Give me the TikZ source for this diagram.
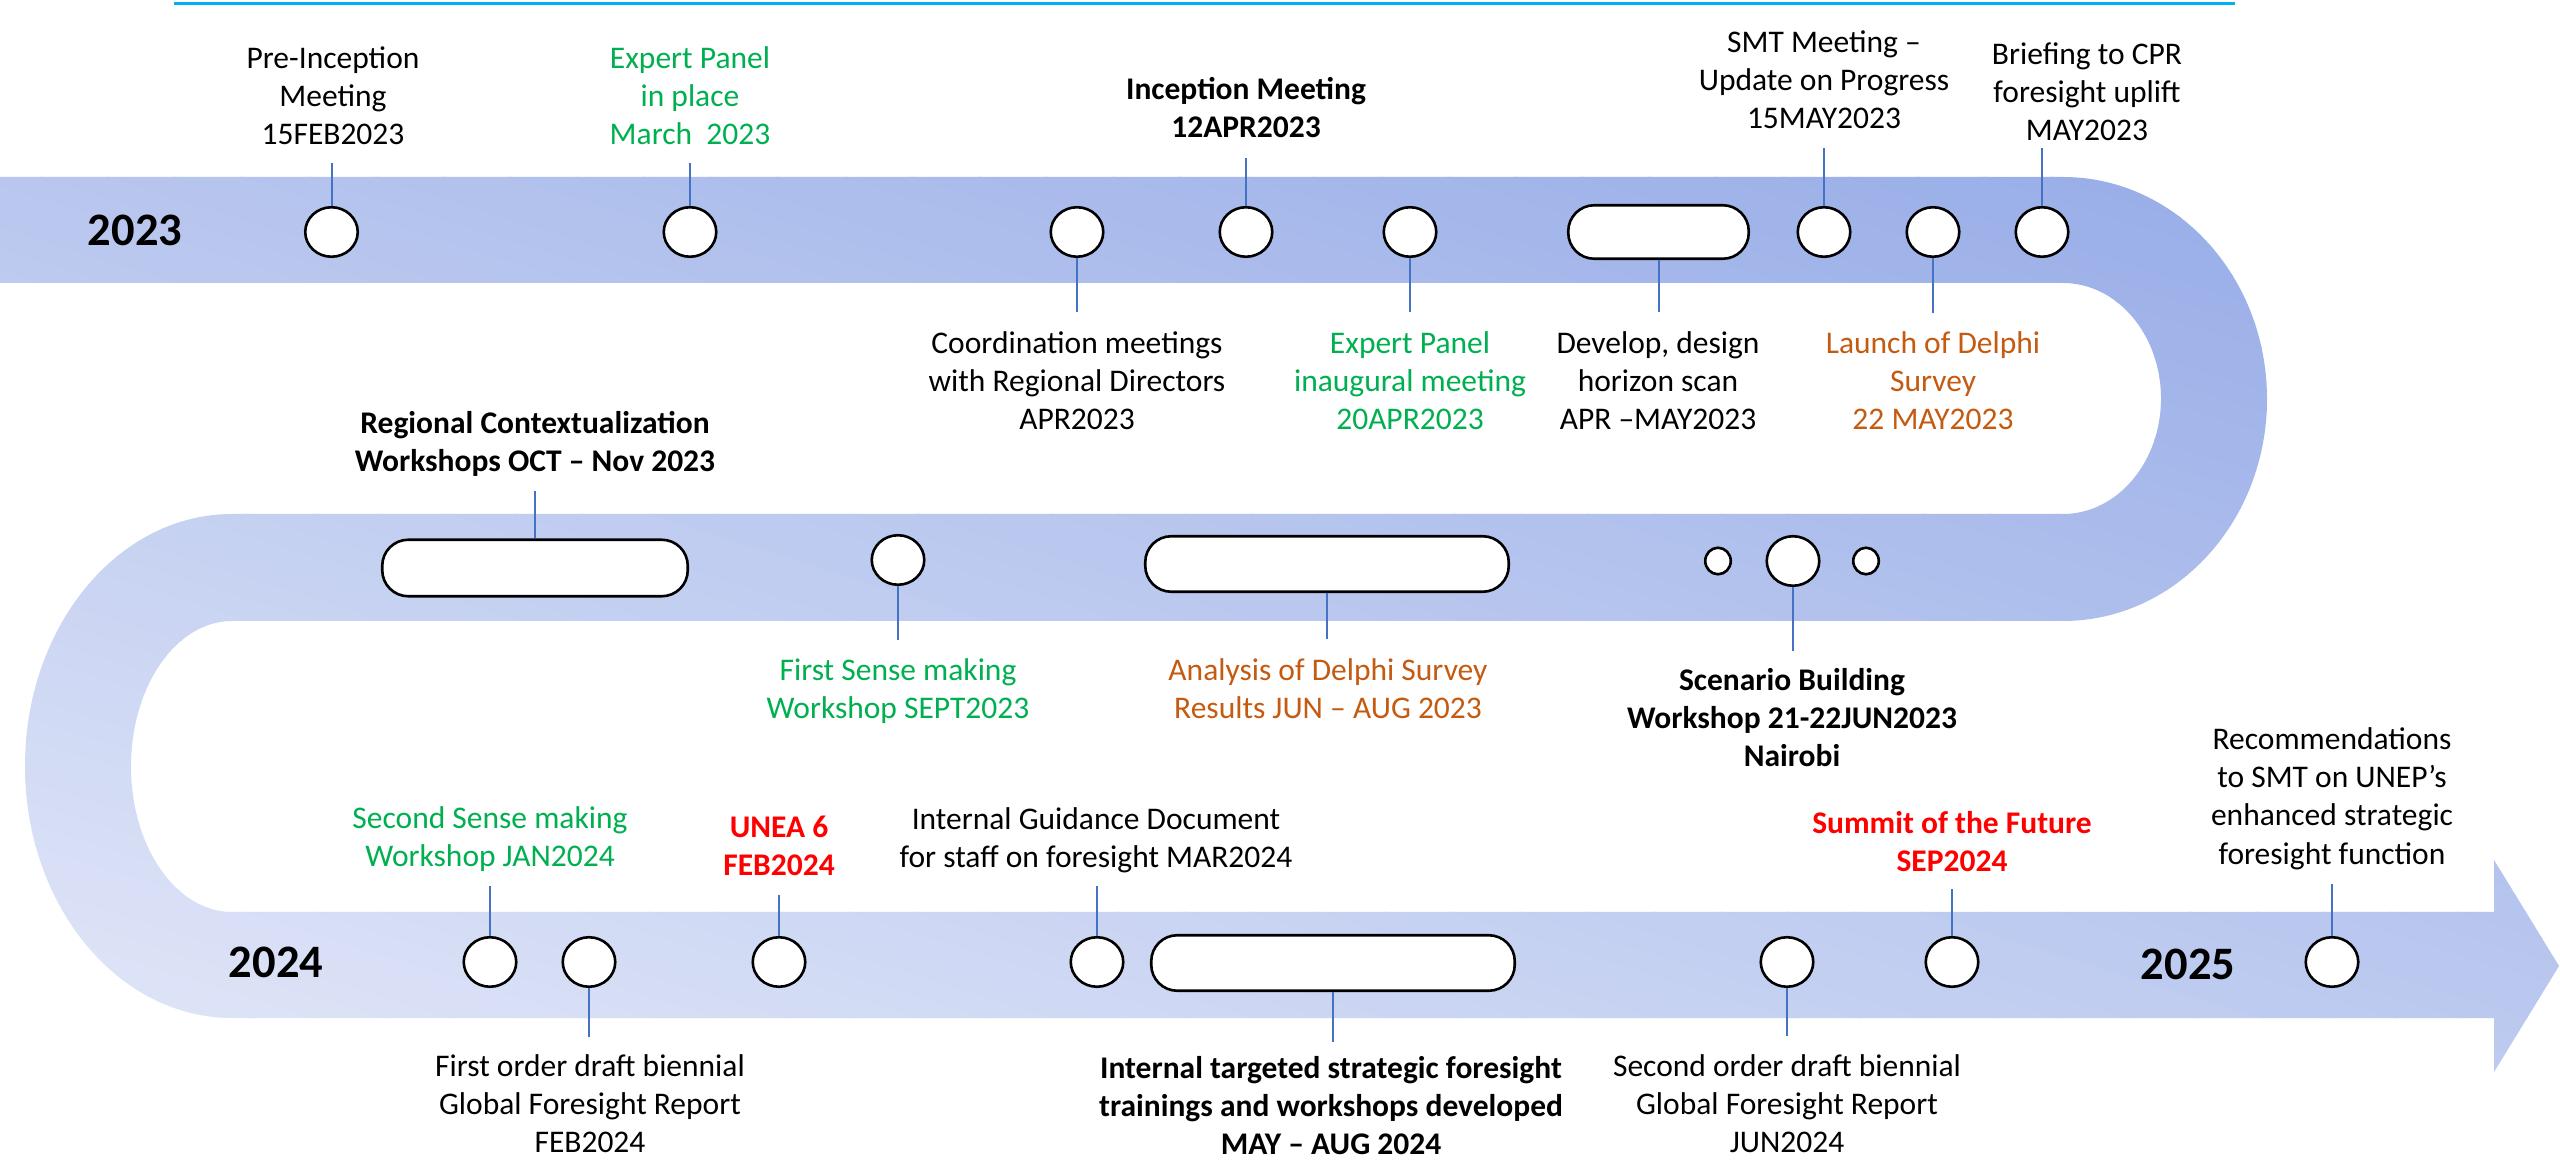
\documentclass[tikz,border=0pt]{standalone}
\usepackage{fontspec}
\setmainfont{Carlito}
\usetikzlibrary{shapes.geometric}

\definecolor{riblight}{RGB}{222,228,247}
\definecolor{ribdark}{RGB}{154,175,232}
\definecolor{leaderblue}{RGB}{68,114,196}
\definecolor{rulecyan}{RGB}{0,176,240}
\definecolor{evgreen}{RGB}{0,176,80}
\definecolor{evorange}{RGB}{197,90,17}
\definecolor{evred}{RGB}{255,0,0}

\newcommand\lblfont{\fontsize{31.5}{38.4}\selectfont}
\newcommand\yearfont{\fontsize{46.5}{56}\selectfont\bfseries}

\begin{document}
\begin{tikzpicture}[x=1pt,y=1pt,
  evt/.style={ellipse, draw=black, fill=white, line width=2.6pt,
    minimum width=52.5pt, minimum height=49.5pt, inner sep=0pt},
  evtsmall/.style={ellipse, draw=black, fill=white, line width=2.6pt,
    minimum width=25.5pt, minimum height=26.5pt, inner sep=0pt},
  evtpill/.style={rectangle, draw=black, fill=white, line width=2.6pt,
    rounded corners=26pt, minimum height=53.5pt, inner sep=0pt},
  leader/.style={draw=leaderblue, line width=2pt},
  lbl/.style={anchor=north, align=center, inner sep=0pt, font=\lblfont},
  strong/.style={font=\lblfont\bfseries},
  year/.style={inner sep=0pt, font=\yearfont}]

\useasboundingbox (0,0) rectangle (2560,1160);
\fill[white] (0,0) rectangle (2560,1160);

% thin rule across the top
\draw[rulecyan, line width=3pt] (174,1156) -- (2235,1156);

% serpentine ribbon with a diagonal light-to-dark gradient
\begin{scope}
  \clip (0,983) -- (2063,983)
    arc[start angle=90, end angle=-90, x radius=204, y radius=222]
    -- (232,539)
    arc[start angle=90, end angle=270, x radius=101, y radius=145.5]
    -- (2494,248) -- (2494,300) -- (2559,194) -- (2494,88) -- (2494,142)
    -- (232,142)
    arc[start angle=270, end angle=90, x radius=207, y radius=252]
    -- (2063,646)
    arc[start angle=-90, end angle=90, x radius=98, y radius=115.5]
    -- (0,877) -- cycle;
  \begin{scope}[x={(0.9545pt,-0.2985pt)}, y={(0.2985pt,0.9545pt)}]
    \foreach \i in {0,...,69}{
      \pgfmathsetmacro\pa{170+\i*20}
      \pgfmathsetmacro\pb{\pa+21}
      \pgfmathsetmacro\pc{100*\i/69}
      \fill[ribdark!\pc!riblight] (-500,\pa) -- (2800,\pa) -- (2800,\pb) -- (-500,\pb) -- cycle;
    }
  \end{scope}
\end{scope}

% year labels
\node[year] (y23) at (135,930) {2023};
\node[year] (y24) at (276,198) {2024};
\node[year] (y25) at (2188,196) {2025};

% events, 2023 row
\node[evt] (c1) at (331.5,928) {};
\node[evt] (c2) at (690,928) {};
\node[evt] (c3) at (1077,928) {};
\node[evt] (c4) at (1246,928) {};
\node[evt] (c5) at (1410,928) {};
\node[evtpill, minimum width=180.5pt] (p1) at (1658.5,928) {};
\node[evt] (c6) at (1824,928) {};
\node[evt] (c7) at (1933,928) {};
\node[evt] (c8) at (2042,928) {};

% events, middle row
\node[evtpill, minimum width=305.5pt, minimum height=56.5pt] (p2) at (535,592) {};
\node[evt] (c9) at (898,600) {};
\node[evtpill, minimum width=363.5pt, minimum height=55.5pt] (p3) at (1327,596) {};
\node[evtsmall] (s1) at (1718,599) {};
\node[evt] (c10) at (1793,599) {};
\node[evtsmall] (s2) at (1866,599) {};

% events, 2024 row
\node[evt] (c11) at (490,198) {};
\node[evt] (c12) at (589,198) {};
\node[evt] (c13) at (779,198) {};
\node[evt] (c14) at (1097,198) {};
\node[evtpill, minimum width=363.5pt, minimum height=55.5pt] (p4) at (1333,197) {};
\node[evt] (c15) at (1787,198) {};
\node[evt] (c16) at (1952,198) {};
\node[evt] (c17) at (2332,198) {};

% captions
\node[lbl] (t1) at (333,1118.9) {\strut Pre-Inception\\Meeting\\15FEB2023};
\node[lbl, text=evgreen] (t2) at (690,1118.9) {\strut Expert Panel\\in place\\March~~2023};
\node[lbl, strong] (t3) at (1246,1087.9) {\strut Inception Meeting\\12APR2023};
\node[lbl] (t4) at (1824,1134.9) {\strut SMT Meeting –\\Update on Progress\\15MAY2023};
\node[lbl] (t5) at (2087,1122.9) {\strut Briefing to CPR\\foresight uplift\\MAY2023};
\node[lbl] (t6) at (1077,833.9) {\strut Coordination meetings\\with Regional Directors\\APR2023};
\node[lbl, text=evgreen] (t7) at (1410,833.9) {\strut Expert Panel\\inaugural meeting\\20APR2023};
\node[lbl] (t8) at (1658,833.9) {\strut Develop, design\\horizon scan\\APR –MAY2023};
\node[lbl, text=evorange] (t9) at (1933,833.9) {\strut Launch of Delphi\\Survey\\22 MAY2023};
\node[lbl, strong] (t10) at (535,753.9) {\strut Regional Contextualization\\Workshops OCT – Nov 2023};
\node[lbl, text=evgreen] (t11) at (898,506.9) {\strut First Sense making\\Workshop SEPT2023};
\node[lbl, text=evorange] (t12) at (1328,506.9) {\strut Analysis of Delphi Survey\\Results JUN – AUG 2023};
\node[lbl, strong] (t13) at (1792,496.9) {\strut Scenario Building\\Workshop 21-22JUN2023\\Nairobi};
\node[lbl, text=evgreen] (t14) at (490,358.9) {\strut Second Sense making\\Workshop JAN2024};
\node[lbl, strong, text=evred] (t15) at (779,349.9) {\strut UNEA 6\\FEB2024};
\node[lbl] (t16) at (1096,357.9) {\strut Internal Guidance Document\\for staff on foresight MAR2024};
\node[lbl, strong, text=evred] (t17) at (1952,353.9) {\strut Summit of the Future\\SEP2024};
\node[lbl] (t18) at (2332,437.9) {\strut Recommendations\\to SMT on UNEP’s\\enhanced strategic\\foresight function};
\node[lbl] (t19) at (590,110.9) {\strut First order draft biennial\\Global Foresight Report\\FEB2024};
\node[lbl, strong] (t20) at (1331,108.9) {\strut Internal targeted strategic foresight\\trainings and workshops developed\\MAY – AUG 2024};
\node[lbl] (t21) at (1787,110.9) {\strut Second order draft biennial\\Global Foresight Report\\JUN2024};

% free ends of the leader lines
\coordinate (e1) at (331.5,997);
\coordinate (e2) at (690,997);
\coordinate (e3) at (1077,848);
\coordinate (e4) at (1246,1002);
\coordinate (e5) at (1410,848);
\coordinate (ep1) at (1658.5,848);
\coordinate (e6) at (1824,1012);
\coordinate (e7) at (1933,847);
\coordinate (e8) at (2042,1012);
\coordinate (ep2) at (535,669);
\coordinate (e9) at (898,520);
\coordinate (ep3) at (1327,521);
\coordinate (e10) at (1793,509);
\coordinate (e11) at (490,274);
\coordinate (e12) at (589,123);
\coordinate (e13) at (779,265);
\coordinate (e14) at (1097,274);
\coordinate (ep4) at (1333,118);
\coordinate (e15) at (1787,124);
\coordinate (e16) at (1952,271);
\coordinate (e17) at (2332,276);

% leader lines
\draw[leader] (c1) -- (e1);
\draw[leader] (c2) -- (e2);
\draw[leader] (c3) -- (e3);
\draw[leader] (c4) -- (e4);
\draw[leader] (c5) -- (e5);
\draw[leader] (p1) -- (ep1);
\draw[leader] (c6) -- (e6);
\draw[leader] (c7) -- (e7);
\draw[leader] (c8) -- (e8);
\draw[leader] (p2) -- (ep2);
\draw[leader] (c9) -- (e9);
\draw[leader] (p3) -- (ep3);
\draw[leader] (c10) -- (e10);
\draw[leader] (c11) -- (e11);
\draw[leader] (c12) -- (e12);
\draw[leader] (c13) -- (e13);
\draw[leader] (c14) -- (e14);
\draw[leader] (p4) -- (ep4);
\draw[leader] (c15) -- (e15);
\draw[leader] (c16) -- (e16);
\draw[leader] (c17) -- (e17);

\end{tikzpicture}
\end{document}
